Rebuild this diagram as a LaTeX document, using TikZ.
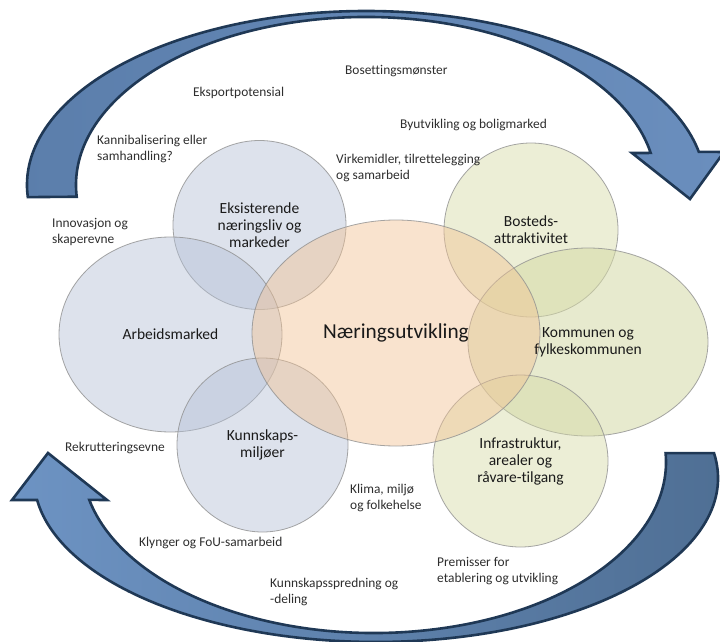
\documentclass[tikz,border=0pt]{standalone}
\usepackage{fontspec}
\setmainfont{Carlito}[Ligatures=NoCommon]
\usepackage{tikz}
\usetikzlibrary{calc,shapes.geometric}
\definecolor{blaa}{HTML}{B4C0D6}
\definecolor{oransje}{HTML}{F2C293}
\definecolor{gronn}{HTML}{D5DAA6}
\definecolor{kant}{HTML}{909090}
\definecolor{tekst}{HTML}{1A1A1A}
\definecolor{notat}{HTML}{2E2E2E}
\definecolor{pilkant}{HTML}{1F3855}
\definecolor{pila}{HTML}{5B7EAB}
\definecolor{pilb}{HTML}{6A8EBD}
\definecolor{pilc}{HTML}{4E6E93}
\definecolor{pild}{HTML}{6D93C3}

\begin{document}
\begin{tikzpicture}[x=1pt,y=-1pt,
  sirkel/.style={ellipse, draw=kant, line width=0.8pt, draw opacity=0.8, fill opacity=0.45, inner sep=0pt},
  etikett/.style={font=\fontsize{15.5}{17}\selectfont, text=tekst, align=center},
  notat/.style={font=\fontsize{13.4}{16.5}\selectfont, text=notat, align=left, anchor=west, inner sep=0pt},
  pil/.style={draw=pilkant, line width=2.6pt, line join=miter}]
  \useasboundingbox (0,0) rectangle (720,642);
  \clip (0,0) rectangle (720,642);
  \fill[white] (0,0) rectangle (720,642);
  \shade[pil, left color=pila, right color=pilb] ([shift={(366,185)}]176:339 and 174) arc[start angle=176, end angle=349, x radius=339, y radius=174]
    -- (724,152) -- (690,199) -- (632,153) -- ([shift={(366,185)}]349:290 and 168) arc[start angle=349, end angle=176, x radius=290, y radius=168] -- cycle;
  \shade[pil, left color=pild, right color=pilc] ([shift={(376,478)}]-8.75:342 and 164) arc[start angle=-8.75, end angle=172.3, x radius=342, y radius=164]
    -- (12,500) -- (48,453) -- (107,500) -- ([shift={(374,462)}]167.2:292 and 171) arc[start angle=167.2, end angle=-3, x radius=292, y radius=171] -- cycle;
  \node[sirkel, fill=blaa, minimum width=173pt, minimum height=169pt] (eks) at (259.5,225) {};
  \node[sirkel, fill=blaa, minimum width=223pt, minimum height=195pt] (arb) at (170.5,334.5) {};
  \node[sirkel, fill=blaa, minimum width=171pt, minimum height=174pt] (kunn) at (262.5,445) {};
  \node[sirkel, fill=gronn, minimum width=174pt, minimum height=174pt] (bost) at (531,230) {};
  \node[sirkel, fill=gronn, fill opacity=0.55, minimum width=240pt, minimum height=188pt] (komm) at (588,342) {};
  \node[sirkel, fill=gronn, minimum width=175pt, minimum height=172pt] (infra) at (520.5,461) {};
  \node[sirkel, fill=oransje, minimum width=288pt, minimum height=226pt] (naer) at (396,333) {};
  \node[etikett] (t-eks) at (eks) {Eksisterende\\næringsliv og\\markeder};
  \node[etikett] (t-arb) at (arb) {Arbeidsmarked};
  \node[etikett] (t-kunn) at (kunn) {Kunnskaps-\\miljøer};
  \node[etikett] (t-bost) at (bost) {Bosteds-\\attraktivitet};
  \node[etikett] (t-komm) at (komm) {Kommunen og\\fylkeskommunen};
  \node[etikett] (t-infra) at (infra) {Infrastruktur,\\arealer og\\råvare-tilgang};
  \node[etikett, font=\fontsize{21.3}{24}\selectfont] (t-naer) at (naer) {Næringsutvikling};
  \node[notat] (n-boset) at (345,71) {Bosettingsmønster};
  \node[notat] (n-eksport) at (193,93) {Eksportpotensial};
  \node[notat] (n-byutv) at (400,125) {Byutvikling og boligmarked};
  \node[notat] (n-kanni) at (97,149) {Kannibalisering eller\\samhandling?};
  \node[notat] (n-virke) at (336,168) {Virkemidler, tilrettelegging\\og samarbeid};
  \node[notat] (n-innov) at (52,232) {Innovasjon og\\skaperevne};
  \node[notat] (n-rekrut) at (65,448) {Rekrutteringsevne};
  \node[notat] (n-klima) at (350,498) {Klima, miljø\\og folkehelse};
  \node[notat] (n-klynger) at (139,543) {Klynger og FoU-samarbeid};
  \node[notat] (n-premiss) at (437,571) {Premisser for\\etablering og utvikling};
  \node[notat] (n-kspred) at (270,592) {Kunnskapsspredning og\\-deling};
\end{tikzpicture}
\end{document}
